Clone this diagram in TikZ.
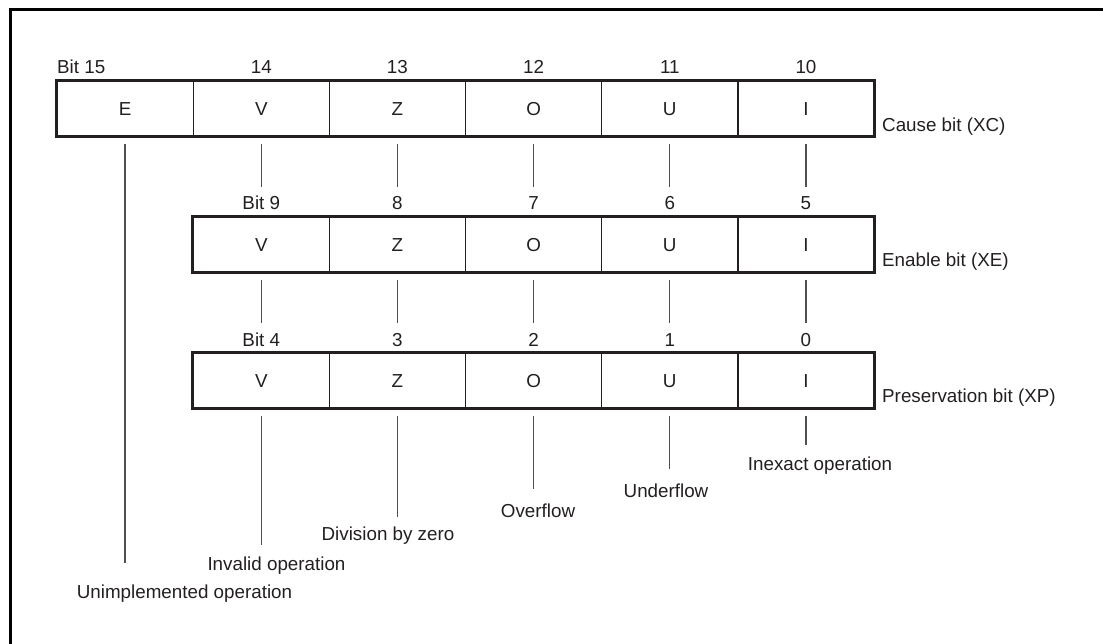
\documentclass[tikz,border=0pt]{standalone}
\usepackage{fontspec}
\setmainfont{Liberation Sans}
\usetikzlibrary{calc}
\definecolor{ink}{HTML}{231F20}
\definecolor{wire}{HTML}{505050}
\begin{document}
\begin{tikzpicture}[x=1pt,y=-1pt,
  font=\fontsize{18.8}{22}\selectfont, text=ink,
  cell/.style={draw=ink, line width=1.3pt, minimum width=136.17pt, minimum height=55pt,
    inner sep=0pt, text height=13.6pt, text depth=0pt},
  outer/.style={draw=ink, line width=2.6pt},
  num/.style={inner sep=0pt, text height=13.6pt, text depth=0pt, anchor=base},
  lab/.style={inner sep=0pt, text height=13.6pt, text depth=0pt, anchor=base},
  conn/.style={draw=wire, line width=1.3pt}]
\useasboundingbox (0,0) rectangle (1103,643);
\draw[line width=3pt] (10,645) -- (10,9) -- (1105,9);

% row 1
\foreach \l [count=\i from 0] in {E,V,Z,O,U,I}
  \node[cell] (a\l) at (125.1+136.17*\i,108.5) {\l};
\draw[outer] (aE.north west) rectangle (aI.south east);
% row 2
\foreach \l [count=\i from 1] in {V,Z,O,U,I}
  \node[cell] (b\l) at (125.1+136.17*\i,244.5) {\l};
\draw[outer] (bV.north west) rectangle (bI.south east);
% row 3
\foreach \l [count=\i from 1] in {V,Z,O,U,I}
  \node[cell] (c\l) at (125.1+136.17*\i,380.5) {\l};
\draw[outer] (cV.north west) rectangle (cI.south east);

% bit numbers
\node[num, anchor=base west] (n15) at (57,73) {Bit 15};
\node[num] (n14) at (aV.center |- 0,73) {14};
\node[num] (n13) at (aZ.center |- 0,73) {13};
\node[num] (n12) at (aO.center |- 0,73) {12};
\node[num] (n11) at (aU.center |- 0,73) {11};
\node[num] (n10) at (aI.center |- 0,73) {10};

\node[num] (n9) at (bV.center |- 0,209) {Bit 9};
\node[num] (n8) at (bZ.center |- 0,209) {8};
\node[num] (n7) at (bO.center |- 0,209) {7};
\node[num] (n6) at (bU.center |- 0,209) {6};
\node[num] (n5) at (bI.center |- 0,209) {5};

\node[num] (n4) at (cV.center |- 0,346) {Bit 4};
\node[num] (n3) at (cZ.center |- 0,346) {3};
\node[num] (n2) at (cO.center |- 0,346) {2};
\node[num] (n1) at (cU.center |- 0,346) {1};
\node[num] (n0) at (cI.center |- 0,346) {0};

% register names
\node[lab, anchor=base west] (xc) at (882,131) {Cause bit (XC)};
\node[lab, anchor=base west] (xe) at (882,266) {Enable bit (XE)};
\node[lab, anchor=base west] (xp) at (882,402) {Preservation bit (XP)};

% vertical connectors between rows
\draw[conn] ($(aV.south)+(0,7)$) -- ($(n9.north)+(0,-8)$);
\draw[conn] ($(aZ.south)+(0,7)$) -- ($(aZ.south |- n8.north)+(0,-8)$);
\draw[conn] ($(aO.south)+(0,7)$) -- ($(aO.south |- n7.north)+(0,-8)$);
\draw[conn] ($(aU.south)+(0,7)$) -- ($(aU.south |- n6.north)+(0,-8)$);
\draw[conn] ($(aI.south)+(0,7)$) -- ($(aI.south |- n5.north)+(0,-8)$);

\draw[conn] ($(bV.south)+(0,7)$) -- ($(n4.north)+(0,-9)$);
\draw[conn] ($(bZ.south)+(0,7)$) -- ($(bZ.south |- n3.north)+(0,-9)$);
\draw[conn] ($(bO.south)+(0,7)$) -- ($(bO.south |- n2.north)+(0,-9)$);
\draw[conn] ($(bU.south)+(0,7)$) -- ($(bU.south |- n1.north)+(0,-9)$);
\draw[conn] ($(bI.south)+(0,7)$) -- ($(bI.south |- n0.north)+(0,-9)$);

% meanings
\node[lab] (lE) at (184.5,598) {Unimplemented operation};
\node[lab] (lV) at (276.5,570.5) {Invalid operation};
\node[lab] (lZ) at (388,540) {Division by zero};
\node[lab] (lO) at (538,517) {Overflow};
\node[lab] (lU) at (666,497) {Underflow};
\node[lab] (lI) at (820,470) {Inexact operation};

\draw[conn] ($(aE.south)+(0,7)$) -- ($(aE.south |- lE.north)+(0,-21)$);
\draw[conn] ($(cV.south)+(0,7)$) -- ($(cV.south |- lV.north)+(0,-12)$);
\draw[conn] ($(cZ.south)+(0,7)$) -- ($(cZ.south |- lZ.north)+(0,-9)$);
\draw[conn] ($(cO.south)+(0,7)$) -- ($(cO.south |- lO.north)+(0,-14)$);
\draw[conn] ($(cU.south)+(0,7)$) -- ($(cU.south |- lU.north)+(0,-14)$);
\draw[conn] ($(cI.south)+(0,7)$) -- ($(cI.south |- lI.north)+(0,-11)$);
\end{tikzpicture}
\end{document}
